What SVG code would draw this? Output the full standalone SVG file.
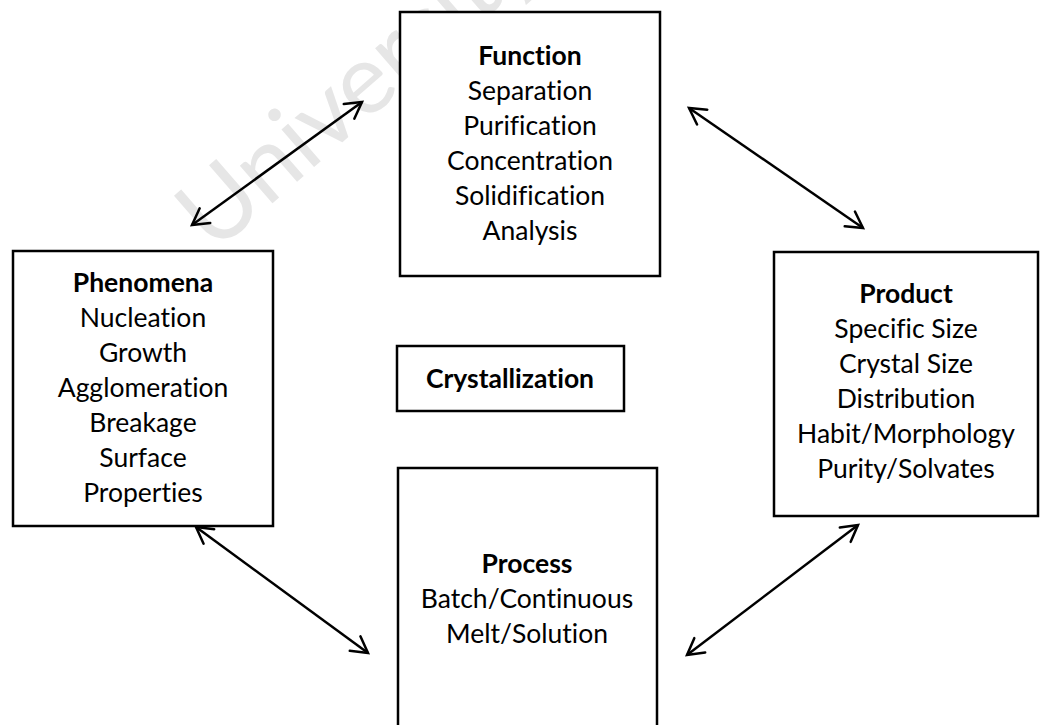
<svg xmlns="http://www.w3.org/2000/svg" width="1044" height="725" viewBox="0 0 1044 725">
<defs>
<style>
.box{fill:#fff;stroke:#000;stroke-width:2.5}
.t{font-family:Lato,"Liberation Sans",sans-serif;font-size:26.5px;fill:#000;text-anchor:middle;font-variant-ligatures:none}
.b{font-weight:bold}
.wm{font-family:Lato,"Liberation Sans",sans-serif;font-size:98px;fill:#e6e6e6;font-variant-ligatures:none}
.conn{stroke:#000;stroke-width:2.5;fill:none;marker-start:url(#ah);marker-end:url(#ah)}
</style>
<marker id="ah" viewBox="-20 -12 24 24" markerWidth="24" markerHeight="24" refX="0" refY="0" orient="auto-start-reverse" markerUnits="userSpaceOnUse">
<path d="M-16,-9 L0,0 L-16,9" fill="none" stroke="#000" stroke-width="2.5" stroke-linecap="round" stroke-linejoin="miter"/>
</marker>
</defs>
<rect width="1044" height="725" fill="#fff"/>
<text class="wm" transform="translate(214,254) rotate(-41)">University</text>
<g id="connectors">
<line class="conn" x1="192" y1="225" x2="362" y2="102"/>
<line class="conn" x1="689" y1="108" x2="863" y2="228"/>
<line class="conn" x1="196" y1="527" x2="368" y2="653"/>
<line class="conn" x1="858" y1="525" x2="687" y2="655"/>
</g>
<g id="function">
<rect class="box" x="400" y="12" width="260" height="264"/>
<text class="t b" x="530" y="65">Function</text>
<text class="t" x="530" y="100">Separation</text>
<text class="t" x="530" y="135">Purification</text>
<text class="t" x="530" y="170">Concentration</text>
<text class="t" x="530" y="205">Solidification</text>
<text class="t" x="530" y="240">Analysis</text>
</g>
<g id="phenomena">
<rect class="box" x="13" y="251" width="260" height="275"/>
<text class="t b" x="143" y="292">Phenomena</text>
<text class="t" x="143" y="327">Nucleation</text>
<text class="t" x="143" y="362">Growth</text>
<text class="t" x="143" y="397">Agglomeration</text>
<text class="t" x="143" y="432">Breakage</text>
<text class="t" x="143" y="467">Surface</text>
<text class="t" x="143" y="502">Properties</text>
</g>
<g id="crystallization">
<rect class="box" x="397" y="346" width="227" height="65"/>
<text class="t b" x="510" y="388">Crystallization</text>
</g>
<g id="product">
<rect class="box" x="774" y="252" width="264" height="264"/>
<text class="t b" x="906" y="303">Product</text>
<text class="t" x="906" y="338">Specific Size</text>
<text class="t" x="906" y="373">Crystal Size</text>
<text class="t" x="906" y="408">Distribution</text>
<text class="t" x="906" y="443">Habit/Morphology</text>
<text class="t" x="906" y="478">Purity/Solvates</text>
</g>
<g id="process">
<rect class="box" x="398" y="468" width="259" height="280"/>
<text class="t b" x="527" y="573">Process</text>
<text class="t" x="527" y="608">Batch/Continuous</text>
<text class="t" x="527" y="643">Melt/Solution</text>
</g>
</svg>
